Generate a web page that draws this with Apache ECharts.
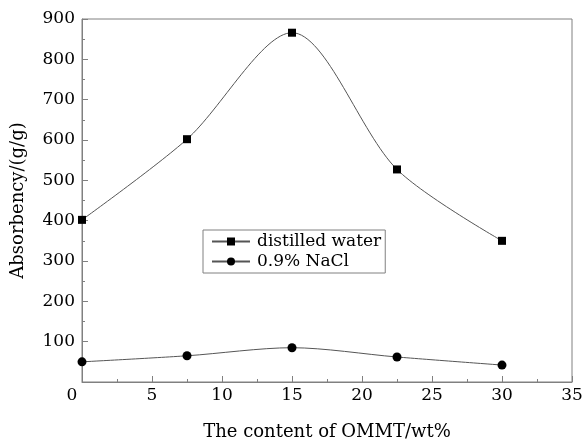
<!DOCTYPE html>
<html>
<head>
<meta charset="utf-8">
<script src="https://cdn.jsdelivr.net/npm/echarts@6/dist/echarts.min.js"></script>
<style>
  html, body { margin: 0; padding: 0; background: #fff; }
  #chart { width: 585px; height: 439px; }
</style>
</head>
<body>
<div id="chart"></div>
<script>
// OMMT content (wt%)
const xValues = [0, 7.5, 15, 22.5, 30]
const distilledWater = [402, 602, 866, 527, 350]
const nacl = [50, 65, 85, 62, 42]
const seriesNames = ['distilled water', '0.9% NaCl']

const font = 'DejaVu Serif'
const axisColor = '#808080'

const toPairs = (vals) => xValues.map((x, i) => [x, vals[i]])

const chart = echarts.init(document.getElementById('chart'))
const option = {
  animation: false,
  textStyle: { fontFamily: font, color: '#000' },
  grid: {
    left: 82,
    right: 13,
    top: 19,
    bottom: 57,
    outerBoundsMode: 'none',
    show: true,
    borderColor: axisColor,
    borderWidth: 1
  },
  legend: {
    left: 203,
    top: 230,
    orient: 'vertical',
    itemWidth: 38,
    itemHeight: 10,
    itemGap: 3,
    padding: [3, 4, 3, 8],
    borderColor: axisColor,
    borderWidth: 1,
    textStyle: { fontFamily: font, fontSize: 17, color: '#000', padding: [0, 0, 0, 2] },
    data: seriesNames
  },
  xAxis: {
    type: 'value',
    min: 0,
    max: 35,
    interval: 5,
    name: 'The content of OMMT/wt%',
    nameLocation: 'middle',
    nameGap: 41,
    nameTextStyle: { fontFamily: font, fontSize: 18, color: '#000' },
    axisLine: { lineStyle: { color: axisColor } },
    axisTick: { inside: true, length: 6, lineStyle: { color: axisColor } },
    minorTick: { show: true, splitNumber: 2, length: 3, lineStyle: { color: axisColor } },
    splitLine: { show: false },
    axisLabel: {
      fontFamily: font,
      fontSize: 17,
      color: '#000',
      margin: 5,
      formatter: (v) => (v === 0 ? '{z|0}' : String(v)),
      rich: { z: { fontFamily: font, fontSize: 17, padding: [0, 20, 0, 0] } }
    }
  },
  yAxis: {
    type: 'value',
    min: 0,
    max: 900,
    interval: 100,
    name: 'Absorbency/(g/g)',
    nameLocation: 'middle',
    nameGap: 55,
    nameTextStyle: { fontFamily: font, fontSize: 18, color: '#000' },
    axisLine: { show: true, lineStyle: { color: axisColor } },
    axisTick: { show: true, inside: true, length: 6, lineStyle: { color: axisColor } },
    minorTick: { show: true, splitNumber: 2, length: 3, lineStyle: { color: axisColor } },
    splitLine: { show: false },
    axisLabel: {
      fontFamily: font,
      fontSize: 17,
      color: '#000',
      margin: 7,
      formatter: (v) => (v === 0 ? '' : String(v))
    }
  },
  series: [
    {
      name: seriesNames[0],
      type: 'line',
      data: toPairs(distilledWater),
      smooth: 0.3,
      symbol: 'rect',
      symbolSize: 8,
      clip: false,
      lineStyle: { color: '#555', width: 1 },
      itemStyle: { color: '#000' }
    },
    {
      name: seriesNames[1],
      type: 'line',
      data: toPairs(nacl),
      smooth: 0.3,
      symbol: 'circle',
      symbolSize: 9,
      clip: false,
      lineStyle: { color: '#555', width: 1 },
      itemStyle: { color: '#000' }
    }
  ]
}
chart.setOption(option)
</script>
</body>
</html>
